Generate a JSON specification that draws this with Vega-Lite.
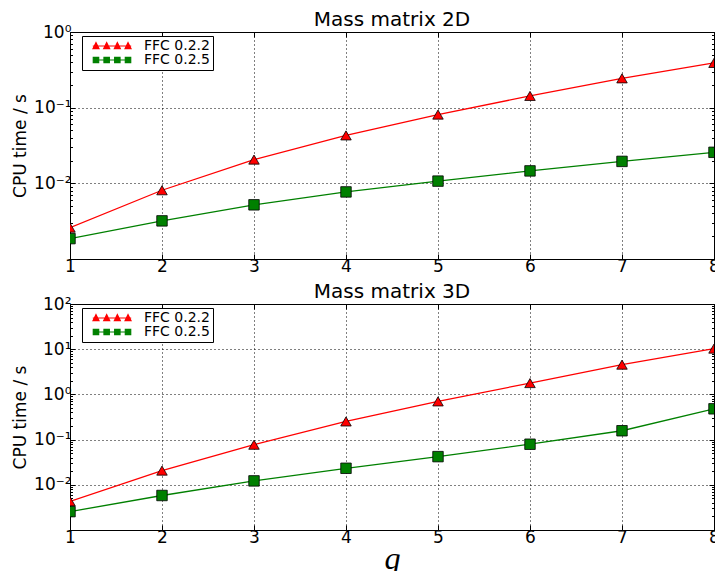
{
  "$schema": "https://vega.github.io/schema/vega-lite/v6.json",
  "background": "white",
  "padding": {"left": 11, "top": 9, "right": 0, "bottom": 0},
  "datasets": {
    "times": [
      {"panel": "2D", "series": "FFC 0.2.2", "q": 1, "time": 0.0026},
      {"panel": "2D", "series": "FFC 0.2.2", "q": 2, "time": 0.0081},
      {"panel": "2D", "series": "FFC 0.2.2", "q": 3, "time": 0.0206},
      {"panel": "2D", "series": "FFC 0.2.2", "q": 4, "time": 0.043},
      {"panel": "2D", "series": "FFC 0.2.2", "q": 5, "time": 0.081},
      {"panel": "2D", "series": "FFC 0.2.2", "q": 6, "time": 0.143},
      {"panel": "2D", "series": "FFC 0.2.2", "q": 7, "time": 0.244},
      {"panel": "2D", "series": "FFC 0.2.2", "q": 8, "time": 0.39},
      {"panel": "2D", "series": "FFC 0.2.5", "q": 1, "time": 0.00186},
      {"panel": "2D", "series": "FFC 0.2.5", "q": 2, "time": 0.00319},
      {"panel": "2D", "series": "FFC 0.2.5", "q": 3, "time": 0.0052},
      {"panel": "2D", "series": "FFC 0.2.5", "q": 4, "time": 0.0077},
      {"panel": "2D", "series": "FFC 0.2.5", "q": 5, "time": 0.0107},
      {"panel": "2D", "series": "FFC 0.2.5", "q": 6, "time": 0.0146},
      {"panel": "2D", "series": "FFC 0.2.5", "q": 7, "time": 0.0195},
      {"panel": "2D", "series": "FFC 0.2.5", "q": 8, "time": 0.0257},
      {"panel": "3D", "series": "FFC 0.2.2", "q": 1, "time": 0.0043},
      {"panel": "3D", "series": "FFC 0.2.2", "q": 2, "time": 0.0206},
      {"panel": "3D", "series": "FFC 0.2.2", "q": 3, "time": 0.077},
      {"panel": "3D", "series": "FFC 0.2.2", "q": 4, "time": 0.252},
      {"panel": "3D", "series": "FFC 0.2.2", "q": 5, "time": 0.70},
      {"panel": "3D", "series": "FFC 0.2.2", "q": 6, "time": 1.78},
      {"panel": "3D", "series": "FFC 0.2.2", "q": 7, "time": 4.55},
      {"panel": "3D", "series": "FFC 0.2.2", "q": 8, "time": 10.3},
      {"panel": "3D", "series": "FFC 0.2.5", "q": 1, "time": 0.00255},
      {"panel": "3D", "series": "FFC 0.2.5", "q": 2, "time": 0.0058},
      {"panel": "3D", "series": "FFC 0.2.5", "q": 3, "time": 0.0122},
      {"panel": "3D", "series": "FFC 0.2.5", "q": 4, "time": 0.0232},
      {"panel": "3D", "series": "FFC 0.2.5", "q": 5, "time": 0.042},
      {"panel": "3D", "series": "FFC 0.2.5", "q": 6, "time": 0.079},
      {"panel": "3D", "series": "FFC 0.2.5", "q": 7, "time": 0.157},
      {"panel": "3D", "series": "FFC 0.2.5", "q": 8, "time": 0.48}
    ]
  },
  "data": {"name": "times"},
  "spacing": 6,
  "resolve": {
    "scale": {"color": "independent"},
    "legend": {"color": "independent"}
  },
  "vconcat": [
    {
      "width": 644,
      "height": 227,
      "title": {"text": "Mass matrix 2D"},
      "transform": [{"filter": "datum.panel == '2D'"}],
      "layer": [
        {
          "mark": {"type": "line", "strokeWidth": 1.3, "clip": true},
          "encoding": {
            "x": {"field": "q", "type": "quantitative", "scale": {"domain": [1, 8], "nice": false, "zero": false},
              "axis": {"orient": "bottom", "values": [1, 2, 3, 4, 5, 6, 7, 8], "grid": true, "gridDash": [1, 3], "gridColor": "black", "gridWidth": 1, "tickSize": -5, "tickColor": "black", "domain": false, "labelFlush": false, "labelOverlap": false, "labelBound": false, "labelFont": "DejaVu Sans", "labelFontSize": 17, "labelColor": "black", "labelPadding": 4, "title": null}},
            "y": {"field": "time", "type": "quantitative", "scale": {"type": "log", "domain": [0.001, 1], "nice": false},
              "axis": {"orient": "left", "values": [0.001,0.002,0.003,0.004,0.005,0.006,0.007,0.008,0.009,0.01,0.02,0.03,0.04,0.05,0.06,0.07,0.08,0.09,0.1,0.2,0.3,0.4,0.5,0.6,0.7,0.8,0.9,1],
                "labelExpr": "datum.value == 1 ? '10⁰' : datum.value == 0.1 ? '10⁻¹' : datum.value == 0.01 ? '10⁻²' : ''",
                "labelOverlap": false,
                "grid": true, "gridDash": [1, 3], "gridColor": "black", "gridWidth": 1,
                "gridOpacity": {"condition": {"test": "datum.value == 0.1 || datum.value == 0.01", "value": 1}, "value": 0},
                "tickSize": {"condition": {"test": "indexof([0.001,0.01,0.1,1], datum.value) >= 0", "value": -5}, "value": -2.5},
                "tickColor": "black", "domain": false, "labelFont": "DejaVu Sans", "labelFontSize": 17, "labelColor": "black", "labelPadding": 4,
                "title": "CPU time / s", "titleFont": "DejaVu Sans", "titleFontSize": 17, "titleFontWeight": "normal", "titleColor": "black", "titlePadding": 4}},
            "color": {"field": "series", "type": "nominal", "scale": {"domain": ["FFC 0.2.2", "FFC 0.2.5"], "range": ["#ff0000", "#008000"]},
              "legend": {"orient": "none", "legendX": 12, "legendY": 4, "title": null, "strokeColor": "black", "fillColor": "white", "padding": 3, "labelFont": "DejaVu Sans", "labelFontSize": 14, "labelColor": "black", "symbolSize": 144, "rowPadding": -1, "labelOffset": 25, "symbolOffset": 20, "symbolStrokeWidth": 1.2,
                "encode": {"symbols": {"update": {
                  "shape": {"signal": "datum.value == 'FFC 0.2.2' ? 'M-3.2,0L3.2,0M-3.17,0.45L-2.67,-0.55L-2.17,0.45ZM-1.39,0.45L-0.89,-0.55L-0.39,0.45ZM0.39,0.45L0.89,-0.55L1.39,0.45ZM2.17,0.45L2.67,-0.55L3.17,0.45Z' : 'M-3.2,0L3.2,0M-3.12,-0.45L-2.22,-0.45L-2.22,0.45L-3.12,0.45ZM-1.34,-0.45L-0.44,-0.45L-0.44,0.45L-1.34,0.45ZM0.44,-0.45L1.34,-0.45L1.34,0.45L0.44,0.45ZM2.22,-0.45L3.12,-0.45L3.12,0.45L2.22,0.45Z'"},
                  "fill": {"signal": "datum.value == 'FFC 0.2.2' ? '#ff0000' : '#008000'"},
                  "fillOpacity": {"value": 1}}}}}}
          }
        },
        {
          "transform": [{"filter": "datum.series == 'FFC 0.2.2'"}],
          "mark": {"type": "point", "shape": "triangle-up", "filled": true, "fill": "#ff0000", "stroke": "black", "strokeWidth": 0.8, "size": 110, "opacity": 1, "clip": true},
          "encoding": {
            "x": {"field": "q", "type": "quantitative",
              "axis": {"orient": "top", "values": [1, 2, 3, 4, 5, 6, 7, 8], "grid": false, "tickSize": -5, "tickColor": "black", "domain": false, "labels": false, "title": null, "minExtent": 0, "maxExtent": 0}},
            "y": {"field": "time", "type": "quantitative",
              "axis": {"orient": "right", "values": [0.001,0.002,0.003,0.004,0.005,0.006,0.007,0.008,0.009,0.01,0.02,0.03,0.04,0.05,0.06,0.07,0.08,0.09,0.1,0.2,0.3,0.4,0.5,0.6,0.7,0.8,0.9,1],
                "grid": false, "labels": false, "domain": false, "title": null, "tickColor": "black", "minExtent": 0, "maxExtent": 0,
                "tickSize": {"condition": {"test": "indexof([0.001,0.01,0.1,1], datum.value) >= 0", "value": -5}, "value": -2.5}}}
          }
        },
        {
          "transform": [{"filter": "datum.series == 'FFC 0.2.5'"}],
          "mark": {"type": "point", "shape": "square", "filled": true, "fill": "#008000", "stroke": "black", "strokeWidth": 0.8, "size": 110, "opacity": 1, "clip": true},
          "encoding": {
            "x": {"field": "q", "type": "quantitative", "axis": null},
            "y": {"field": "time", "type": "quantitative", "axis": null}
          }
        }
      ],
      "resolve": {"axis": {"x": "independent", "y": "independent"}}
    },
    {
      "width": 644,
      "height": 226,
      "title": {"text": "Mass matrix 3D"},
      "transform": [{"filter": "datum.panel == '3D'"}],
      "layer": [
        {
          "mark": {"type": "line", "strokeWidth": 1.3, "clip": true},
          "encoding": {
            "x": {"field": "q", "type": "quantitative", "scale": {"domain": [1, 8], "nice": false, "zero": false},
              "axis": {"orient": "bottom", "values": [1, 2, 3, 4, 5, 6, 7, 8], "grid": true, "gridDash": [1, 3], "gridColor": "black", "gridWidth": 1, "tickSize": -5, "tickColor": "black", "domain": false, "labelFlush": false, "labelOverlap": false, "labelBound": false, "labelFont": "DejaVu Sans", "labelFontSize": 17, "labelColor": "black", "labelPadding": 4,
                "title": "q", "titleFont": "Liberation Serif", "titleFontStyle": "italic", "titleFontWeight": "normal", "titleFontSize": 32, "titleColor": "black", "titlePadding": -2}},
            "y": {"field": "time", "type": "quantitative", "scale": {"type": "log", "domain": [0.001, 100], "nice": false},
              "axis": {"orient": "left", "values": [0.001,0.002,0.003,0.004,0.005,0.006,0.007,0.008,0.009,0.01,0.02,0.03,0.04,0.05,0.06,0.07,0.08,0.09,0.1,0.2,0.3,0.4,0.5,0.6,0.7,0.8,0.9,1,2,3,4,5,6,7,8,9,10,20,30,40,50,60,70,80,90,100],
                "labelExpr": "datum.value == 100 ? '10²' : datum.value == 10 ? '10¹' : datum.value == 1 ? '10⁰' : datum.value == 0.1 ? '10⁻¹' : datum.value == 0.01 ? '10⁻²' : ''",
                "labelOverlap": false,
                "grid": true, "gridDash": [1, 3], "gridColor": "black", "gridWidth": 1,
                "gridOpacity": {"condition": {"test": "indexof([0.01,0.1,1,10], datum.value) >= 0", "value": 1}, "value": 0},
                "tickSize": {"condition": {"test": "indexof([0.001,0.01,0.1,1,10,100], datum.value) >= 0", "value": -5}, "value": -2.5},
                "tickColor": "black", "domain": false, "labelFont": "DejaVu Sans", "labelFontSize": 17, "labelColor": "black", "labelPadding": 4,
                "title": "CPU time / s", "titleFont": "DejaVu Sans", "titleFontSize": 17, "titleFontWeight": "normal", "titleColor": "black", "titlePadding": 4}},
            "color": {"field": "series", "type": "nominal", "scale": {"domain": ["FFC 0.2.2", "FFC 0.2.5"], "range": ["#ff0000", "#008000"]},
              "legend": {"orient": "none", "legendX": 12, "legendY": 4, "title": null, "strokeColor": "black", "fillColor": "white", "padding": 3, "labelFont": "DejaVu Sans", "labelFontSize": 14, "labelColor": "black", "symbolSize": 144, "rowPadding": -1, "labelOffset": 25, "symbolOffset": 20, "symbolStrokeWidth": 1.2,
                "encode": {"symbols": {"update": {
                  "shape": {"signal": "datum.value == 'FFC 0.2.2' ? 'M-3.2,0L3.2,0M-3.17,0.45L-2.67,-0.55L-2.17,0.45ZM-1.39,0.45L-0.89,-0.55L-0.39,0.45ZM0.39,0.45L0.89,-0.55L1.39,0.45ZM2.17,0.45L2.67,-0.55L3.17,0.45Z' : 'M-3.2,0L3.2,0M-3.12,-0.45L-2.22,-0.45L-2.22,0.45L-3.12,0.45ZM-1.34,-0.45L-0.44,-0.45L-0.44,0.45L-1.34,0.45ZM0.44,-0.45L1.34,-0.45L1.34,0.45L0.44,0.45ZM2.22,-0.45L3.12,-0.45L3.12,0.45L2.22,0.45Z'"},
                  "fill": {"signal": "datum.value == 'FFC 0.2.2' ? '#ff0000' : '#008000'"},
                  "fillOpacity": {"value": 1}}}}}}
          }
        },
        {
          "transform": [{"filter": "datum.series == 'FFC 0.2.2'"}],
          "mark": {"type": "point", "shape": "triangle-up", "filled": true, "fill": "#ff0000", "stroke": "black", "strokeWidth": 0.8, "size": 110, "opacity": 1, "clip": true},
          "encoding": {
            "x": {"field": "q", "type": "quantitative",
              "axis": {"orient": "top", "values": [1, 2, 3, 4, 5, 6, 7, 8], "grid": false, "tickSize": -5, "tickColor": "black", "domain": false, "labels": false, "title": null, "minExtent": 0, "maxExtent": 0}},
            "y": {"field": "time", "type": "quantitative",
              "axis": {"orient": "right", "values": [0.001,0.002,0.003,0.004,0.005,0.006,0.007,0.008,0.009,0.01,0.02,0.03,0.04,0.05,0.06,0.07,0.08,0.09,0.1,0.2,0.3,0.4,0.5,0.6,0.7,0.8,0.9,1,2,3,4,5,6,7,8,9,10,20,30,40,50,60,70,80,90,100],
                "grid": false, "labels": false, "domain": false, "title": null, "tickColor": "black", "minExtent": 0, "maxExtent": 0,
                "tickSize": {"condition": {"test": "indexof([0.001,0.01,0.1,1,10,100], datum.value) >= 0", "value": -5}, "value": -2.5}}}
          }
        },
        {
          "transform": [{"filter": "datum.series == 'FFC 0.2.5'"}],
          "mark": {"type": "point", "shape": "square", "filled": true, "fill": "#008000", "stroke": "black", "strokeWidth": 0.8, "size": 110, "opacity": 1, "clip": true},
          "encoding": {
            "x": {"field": "q", "type": "quantitative", "axis": null},
            "y": {"field": "time", "type": "quantitative", "axis": null}
          }
        }
      ],
      "resolve": {"axis": {"x": "independent", "y": "independent"}}
    }
  ],
  "config": {
    "view": {"stroke": "black", "strokeWidth": 1},
    "title": {"font": "DejaVu Sans", "fontSize": 20, "fontWeight": "normal", "color": "black", "offset": -7}
  }
}
